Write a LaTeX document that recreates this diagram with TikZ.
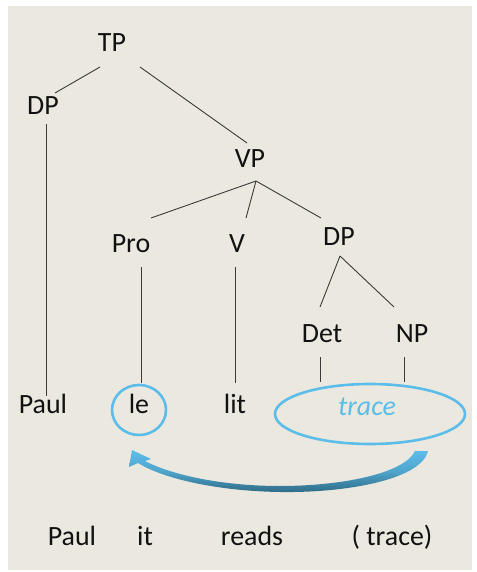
\documentclass[tikz,border=0pt]{standalone}
\usepackage{fontspec}
\setmainfont{Carlito}
\usetikzlibrary{calc}
\definecolor{bg}{HTML}{EBE9DF}
\definecolor{lblue}{HTML}{5DBDEA}
\definecolor{dteal}{HTML}{2E6A84}
\definecolor{ink}{HTML}{111111}
\definecolor{edge}{HTML}{3A3A3A}
\begin{document}
\begin{tikzpicture}[x=1bp,y=-1bp,
  lab/.style={anchor=base,inner sep=0pt,text=ink,font=\fontsize{28}{30}\selectfont},
  br/.style={draw=edge,line width=0.9bp},
  ring/.style={draw=lblue,line width=2.6bp}]
\useasboundingbox (0,0) rectangle (477,572);
\fill[bg] (8,6) rectangle (472,570);
% labels
\node[lab] (TP) at (112,52) {TP};
\node[lab] (DPa) at (43,115) {DP};
\node[lab] (VP) at (250,168) {VP};
\node[lab] (Pro) at (131,252) {Pro};
\node[lab] (V) at (237,252) {V};
\node[lab] (DPb) at (339,245) {DP};
\node[lab] (Det) at (322,342) {Det};
\node[lab] (NP) at (412,342) {NP};
\node[lab] (Paul) at (43,413) {Paul};
\node[lab] (le) at (139,413) {le};
\node[lab] (lit) at (235,413) {lit};
\node[lab,text=lblue,font=\fontsize{28}{30}\selectfont\itshape] (tr) at (367,415) {trace};
\node[lab] (gPaul) at (72,545) {Paul};
\node[lab] (git) at (145,545) {it};
\node[lab] (greads) at (252,545) {reads};
\node[lab] (gtrace) at (392,545) {( trace)};
% branch end points
\coordinate (TPl) at (100,67);
\coordinate (TPr) at (140,67);
\coordinate (DPat) at (55,93);
\coordinate (DPab) at (46,124);
\coordinate (Pault) at (46,396);
\coordinate (VPt) at (247,143);
\coordinate (VPb) at (256,181);
\coordinate (Prot) at (151,218);
\coordinate (Vt) at (246,218);
\coordinate (DPbt) at (321,218);
\coordinate (Prob) at (141,267);
\coordinate (let) at (141,383);
\coordinate (Vb) at (235,267);
\coordinate (litt) at (235,383);
\coordinate (DPbb) at (340,256);
\coordinate (Dett) at (320,307);
\coordinate (NPt) at (394,307);
\coordinate (Detb) at (320,357);
\coordinate (trl) at (320,382);
\coordinate (NPb) at (404,357);
\coordinate (trr) at (404,382);
\draw[br] (TPl) -- (DPat);
\draw[br] (TPr) -- (VPt);
\draw[br] (DPab) -- (Pault);
\draw[br] (VPb) -- (Prot);
\draw[br] (VPb) -- (Vt);
\draw[br] (VPb) -- (DPbt);
\draw[br] (Prob) -- (let);
\draw[br] (Vb) -- (litt);
\draw[br] (DPbb) -- (Dett);
\draw[br] (DPbb) -- (NPt);
\draw[br] (Detb) -- (trl);
\draw[br] (NPb) -- (trr);
% circles
\draw[ring] (139,410) ellipse [x radius=27, y radius=25];
\draw[ring] (370,414) ellipse [x radius=95, y radius=30];
% curved arrow
\shade[top color=lblue,bottom color=dteal,middle color=lblue!70!dteal]
  (415,451) -- (428,451)
  .. controls (421,480) and (345,493) .. (280,492)
  .. controls (215,491) and (162,478) .. (138,463)
  -- (129,467) -- (132,450) -- (151,459) -- (145,461)
  .. controls (172,475) and (222,486) .. (280,486)
  .. controls (340,486) and (404,474) .. (415,451) -- cycle;
\end{tikzpicture}
\end{document}
